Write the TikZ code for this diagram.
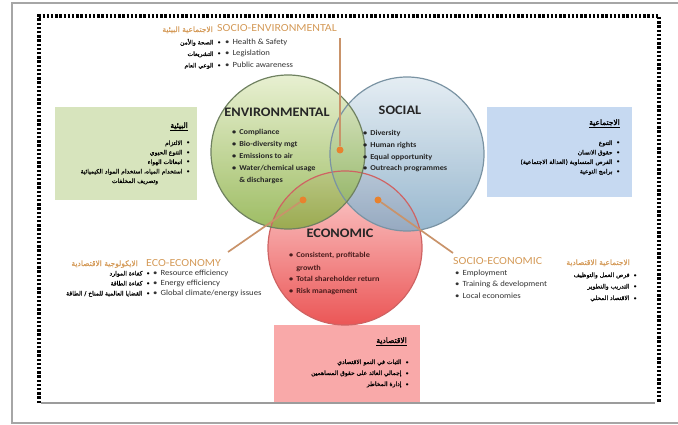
\documentclass[tikz,border=0pt]{standalone}
\usepackage{fontspec}
\setmainfont{Carlito}[FakeStretch=1.1]
\newfontfamily\arabicfont[Script=Arabic,FakeBold=0.6]{DejaVu Sans}
\newfontfamily\arabicboldfont[Script=Arabic,FakeBold=2]{DejaVu Sans}
\TeXXeTstate=1
\newcommand{\ar}[1]{{\arabicfont\beginR #1\endR}}
\newcommand{\arb}[1]{{\arabicboldfont\beginR #1\endR}}
\definecolor{frameGray}{HTML}{A6A6A6}
\definecolor{baseGray}{HTML}{9C9C9C}
\definecolor{labelTan}{HTML}{D49A58}
\definecolor{lineTan}{HTML}{C9936A}
\definecolor{dotOrange}{HTML}{E8822E}
\definecolor{greenBox}{HTML}{D7E4BD}
\definecolor{blueBox}{HTML}{C6D9F1}
\definecolor{pinkBox}{HTML}{F9A9A9}
\definecolor{envTop}{HTML}{E2ECC6}
\definecolor{envBot}{HTML}{85AC3C}
\definecolor{socTop}{HTML}{E0EAF1}
\definecolor{socBot}{HTML}{86ABC6}
\definecolor{ecoTop}{HTML}{FCD3D3}
\definecolor{ecoBot}{HTML}{EB5656}
\definecolor{envLine}{HTML}{6F8160}
\definecolor{socLine}{HTML}{7A93A3}
\definecolor{ecoLine}{HTML}{CF6363}
\definecolor{ecoText}{HTML}{4A1C1C}
\begin{document}
\begin{tikzpicture}[x=1pt,y=-1pt,
  frameOuter/.style={draw=frameGray, line width=1.2pt},
  dotframe/.style={draw=black, line width=3.2pt, dash pattern=on 2.4pt off 1.8pt},
  basegray/.style={draw=baseGray, line width=2pt},
  vcircle/.style={circle, inner sep=0, minimum size=154pt},
  ctitle/.style={inner sep=0, anchor=base, font=\fontsize{13}{13}\selectfont\bfseries, text=black!85},
  ctxt/.style={inner sep=0, anchor=base west, font=\fontsize{7.5}{9}\selectfont\bfseries, text=black!85},
  otxt/.style={inner sep=0, anchor=base west, font=\fontsize{7.9}{9}\selectfont, text=black!80},
  lbl/.style={inner sep=0, font=\fontsize{10.8}{11}\selectfont, text=labelTan},
  arlbl/.style={inner sep=0, anchor=base east, font=\fontsize{7.5}{8}\selectfont, text=labelTan},
  artxt/.style={inner sep=0, anchor=base east, font=\fontsize{6}{7}\selectfont, text=black},
  artitle/.style={inner sep=0, anchor=base east, font=\fontsize{7.5}{8}\selectfont, text=black},
  infobox/.style={inner sep=0, anchor=north west},
  conn/.style={draw=lineTan, line width=1.7pt},
  jdot/.style={circle, fill=dotOrange, inner sep=0, minimum size=7pt},
]
\useasboundingbox (0,0) rectangle (678,425);
% frames
\draw[frameOuter] (678,3) -- (12,3) -- (12,423) -- (678,423);
\draw[dotframe] (39,403) -- (39,16) -- (659,16) -- (659,403);

% boxes
\node[infobox, fill=greenBox, minimum width=142pt, minimum height=93pt] (gbox) at (55,107) {};
\node[infobox, fill=blueBox, minimum width=145pt, minimum height=90pt] (bbox) at (487,107) {};
\node[infobox, fill=pinkBox, minimum width=146pt, minimum height=78pt] (pbox) at (274,325) {};
\draw[basegray] (41,403) -- (655,403);

% circles
\node[vcircle, top color=ecoTop, bottom color=ecoBot] (ecoC) at (345,248) {};
\node[vcircle, top color=socTop, bottom color=socBot, fill opacity=0.85] (socC) at (407,154) {};
\node[vcircle, top color=envTop, bottom color=envBot, fill opacity=0.8] (envC) at (288,152) {};
\draw[ecoLine, line width=1.2pt] (ecoC.center) circle[radius=77];
\draw[socLine, line width=1.2pt] (socC.center) circle[radius=77];
\draw[envLine, line width=1.2pt] (envC.center) circle[radius=77];

% circle texts
\node[ctitle] (envT) at (277,116.5) {ENVIRONMENTAL};
\foreach \t [count=\i] in {Compliance, Bio-diversity mgt, Emissions to air, Water/chemical usage}
  \node[ctxt] (env\i) at (232,{135+12*(\i-1)}) {\textbullet\hspace{3pt}\t};
\node[ctxt] (env5) at (232,183) {\phantom{\textbullet}\hspace{3pt}\& discharges};

\node[ctitle] (socT) at (400,115) {SOCIAL};
\foreach \t [count=\i] in {Diversity, Human rights, Equal opportunity, Outreach programmes}
  \node[ctxt] (soc\i) at (363,{135.5+11.8*(\i-1)}) {\textbullet\hspace{3pt}\t};

\node[ctitle] (ecoT) at (340,237) {ECONOMIC};
\node[ctxt, text=ecoText] (eco1) at (289,258) {\textbullet\hspace{3pt}Consistent, profitable};
\node[ctxt, text=ecoText] (eco2) at (289,270) {\phantom{\textbullet}\hspace{3pt}growth};
\node[ctxt, text=ecoText] (eco3) at (289,281.5) {\textbullet\hspace{3pt}Total shareholder return};
\node[ctxt, text=ecoText] (eco4) at (289,293) {\textbullet\hspace{3pt}Risk management};

% junction dots and connectors
\node[jdot] (dES) at (340,150) {};
\node[jdot] (dEE) at (303,200) {};
\node[jdot] (dSE) at (378,200) {};
\coordinate (cES) at (340,38);
\coordinate (cEE) at (228,252);
\coordinate (cSE) at (453,253);
\draw[conn] (dES) -- (cES);
\draw[conn] (dEE) -- (cEE);
\draw[conn] (dSE) -- (cSE);

% socio-environmental
\node[lbl, anchor=base west] (seT) at (217,32) {SOCIO-ENVIRONMENTAL};
\node[arlbl] (seA) at (213,32) {\ar{الاجتماعية البيئية}};
\foreach \t [count=\i] in {Health \& Safety, Legislation, Public awareness}
  \node[otxt] (se\i) at (225,{44.5+11.5*(\i-1)}) {\textbullet\hspace{3pt}\t};
\foreach \t [count=\i] in {الصحة والأمن, التشريعات, الوعي العام}
  \node[artxt] (sa\i) at (221,{44.5+11.5*(\i-1)}) {\ar{\t}\hspace{4pt}\textbullet};

% green box (environmental)
\node[artitle] (gT) at (188,128) {\underline{\arb{البيئية}}};
\foreach \t [count=\i] in {الالتزام, التنوع الحيوي, انبعاثات الهواء, استخدام المياه، استخدام المواد الكيميائية}
  \node[artxt] (g\i) at (190,{145+9.5*(\i-1)}) {\ar{\t}\hspace{4pt}\textbullet};
\node[artxt, anchor=base] (g5) at (135,183) {\ar{وتصريف المخلفات}};

% blue box (social)
\node[artitle] (bT) at (620,125) {\underline{\arb{الاجتماعية}}};
\foreach \t [count=\i] in {التنوع, حقوق الانسان, الفرص المتساوية (العدالة الاجتماعية), برامج التوعية}
  \node[artxt] (b\i) at (620,{145+9.5*(\i-1)}) {\ar{\t}\hspace{4pt}\textbullet};

% pink box (economic)
\node[artitle] (pT) at (407,343) {\underline{\arb{الاقتصادية}}};
\foreach \t [count=\i] in {الثبات في النمو الاقتصادي, إجمالي العائد على حقوق المساهمين, إدارة المخاطر}
  \node[artxt] (p\i) at (409,{364+11*(\i-1)}) {\ar{\t}\hspace{4pt}\textbullet};

% eco-economy
\node[lbl, anchor=base west] (eeT) at (146,266) {ECO-ECONOMY};
\node[arlbl] (eeA) at (138,266) {\ar{الايكولوجية الاقتصادية}};
\foreach \t [count=\i] in {Resource efficiency, Energy efficiency, Global climate/energy issues}
  \node[otxt] (ee\i) at (153,{275.5+10*(\i-1)}) {\textbullet\hspace{3pt}\t};
\foreach \t [count=\i] in {كفاءة الموارد, كفاءة الطاقة, القضايا العالمية للمناخ / الطاقة}
  \node[artxt] (ea\i) at (150,{275.5+10*(\i-1)}) {\ar{\t}\hspace{4pt}\textbullet};

% socio-economic
\node[lbl, anchor=base west] (sT) at (453,265) {SOCIO-ECONOMIC};
\node[arlbl] (sA) at (630,265) {\ar{الاجتماعية الاقتصادية}};
\foreach \t [count=\i] in {Employment, Training \& development, Local economies}
  \node[otxt] (s\i) at (455,{276+11*(\i-1)}) {\textbullet\hspace{3pt}\t};
\foreach \t [count=\i] in {فرص العمل والتوظيف, التدريب والتطوير, الاقتصاد المحلي}
  \node[artxt] (sa\i) at (637,{277+11.5*(\i-1)}) {\ar{\t}\hspace{4pt}\textbullet};
\end{tikzpicture}
\end{document}
